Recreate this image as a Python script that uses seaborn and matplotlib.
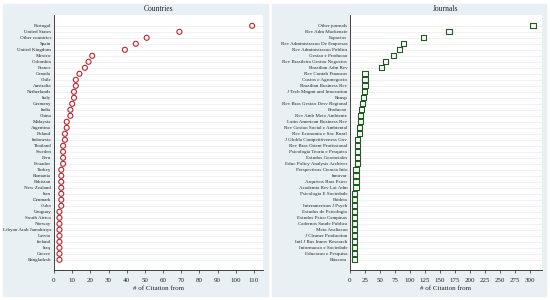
#recreate the countries / journals citation dot plots
import pandas as pd
import matplotlib
matplotlib.use('Agg')
import matplotlib.pyplot as plt
import seaborn as sns
from matplotlib.patches import Rectangle

#data
countries = ['Portugal', 'United States', 'Other countries', 'Spain', 'United Kingdom',
             'Mexico', 'Colombia', 'France', 'Canada', 'Chile', 'Australia', 'Netherlands',
             'Italy', 'Germany', 'India', 'China', 'Malaysia', 'Argentina', 'Poland',
             'Indonesia', 'Thailand', 'Sweden', 'Peru', 'Ecuador', 'Turkey', 'Romania',
             'Pakistan', 'New Zealand', 'Iran', 'Denmark', 'Cuba', 'Uruguay', 'South Africa',
             'Norway', 'Libyan Arab Jamahiriya', 'Latvia', 'Ireland', 'Iraq', 'Greece',
             'Bangladesh']
country_cites = [109, 69, 51, 45, 39, 21, 19, 17, 14, 12, 12, 11, 11, 10, 9, 9, 7, 7, 6, 6,
                 5, 5, 5, 5, 4, 4, 4, 4, 4, 4, 4, 3, 3, 3, 3, 3, 3, 3, 3, 3]

journals = ['Other journals', 'Rev Adm Mackenzie', 'Espacios', 'Rev Administracao De Empresas',
            'Rev Administracao Publica', 'Gestao e Producao', 'Rev Brasileira Gestao Negocios',
            'Brazilian Adm Rev', 'Rev Contab Financas', 'Custos e Agronegocio',
            'Brazilian Business Rev', 'J Tech Mngmt and Innovation', 'Rausp',
            'Rev Bras Gestao Desv Regional', 'Producao', 'Rev Amb Meio Ambiente',
            'Latin American Business Rev', 'Rev Gestao Social e Ambiental',
            'Rev Economia e Soc Rural', 'J Globla Competitiveness Gov',
            'Rev Bras Orient Profissional', 'Psicologia Teoria e Pesquisa',
            'Estudos Gerenciales', 'Educ Policy Analysis Archives', 'Perspectivas Ciencia Info',
            'Innovar', 'Arquivos Bras Psico', 'Academia Rev Lat Adm', 'Psicologia E Sociedade',
            'Paideia', 'Interamerican J Psych', 'Estudos de Psicologia', 'Estudos Psico Campinas',
            'Cadernos Saude Publica', 'Meta Avaliacao', 'J Cleaner Production',
            'Intl J Bus Innov Research', 'Informacao e Sociedade', 'Educacao e Pesquisa',
            'Bitacora']
journal_cites = [305, 165, 122, 89, 82, 72, 59, 52, 25, 25, 25, 24, 22, 21, 19, 17, 17, 16, 16,
                 13, 13, 13, 13, 13, 10, 10, 10, 10, 7, 7, 7, 7, 7, 7, 7, 7, 7, 7, 7, 7]

country_ticks = list(range(0, 111, 10))
journal_ticks = list(range(0, 301, 25))

df_c = pd.DataFrame({'name': countries, 'cites': country_cites})
df_j = pd.DataFrame({'name': journals, 'cites': journal_cites})

sns.set_style('white')
plt.rcParams['font.family'] = ['Liberation Serif', 'DejaVu Serif']

bg = '#e9f0f3'
fig = plt.figure(figsize=(5.5, 3), dpi=100)
#light panels behind each subgraph
fig.patches.append(Rectangle((3 / 550, 4 / 300), 265 / 550, 292 / 300,
                             transform=fig.transFigure, color=bg, zorder=-5))
fig.patches.append(Rectangle((272 / 550, 4 / 300), 274 / 550, 292 / 300,
                             transform=fig.transFigure, color=bg, zorder=-5))

ax1 = fig.add_axes([54 / 550, 0.10, 209 / 550, 0.85])
ax2 = fig.add_axes([350 / 550, 0.10, 192 / 550, 0.85])

panels = [(ax1, df_c, 'Countries', 'o', '#b8262e', country_ticks, 115),
          (ax2, df_j, 'Journals', 's', '#1f5a22', journal_ticks, 320)]

for ax, data, title, mk, col, ticks, xmax in panels:
    ax.set_facecolor('white')
    #light horizontal grid at every row
    for i in range(len(data)):
        ax.axhline(i, color='#ececec', lw=0.5, zorder=0)
    sns.scatterplot(data=data, x='cites', y='name', marker=mk, s=13, facecolor='none',
                    edgecolor=col, linewidth=0.8, ax=ax, zorder=3)
    ax.set_xlim(0, xmax)
    ax.set_ylim(len(data) - 1 + 1.7, -1.8)
    ax.set_xticks(ticks)
    ax.set_xticklabels([str(t) for t in ticks], fontsize=5, color='#222222')
    ax.tick_params(axis='y', labelsize=3.6, length=0, pad=2, colors='#222222')
    ax.tick_params(axis='x', length=2.5, width=0.5, pad=3, direction='out', bottom=True)
    ax.set_title(title, fontsize=5.5, pad=3, color='#222222')
    ax.set_xlabel('# of Citation from', fontsize=5, labelpad=2.5, color='#222222')
    ax.set_ylabel('')
    for s in ['top', 'right']:
        ax.spines[s].set_visible(False)
    for s in ['left', 'bottom']:
        ax.spines[s].set_color('#222222')
        ax.spines[s].set_linewidth(0.6)

fig.savefig('out.png', dpi=100)
